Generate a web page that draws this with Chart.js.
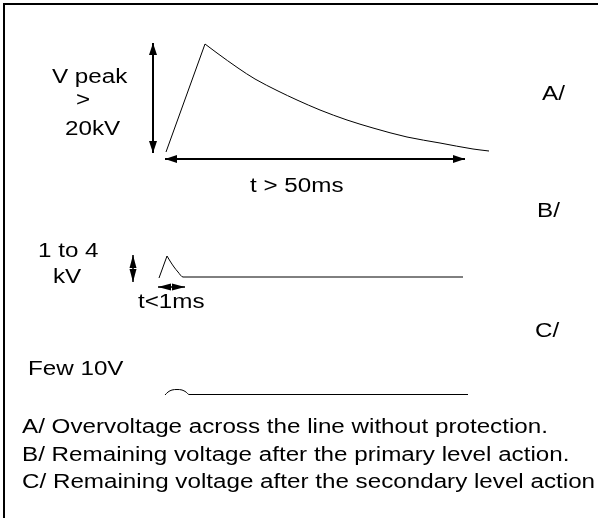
<!DOCTYPE html>
<html>
<head>
<meta charset="utf-8">
<script src="https://cdn.jsdelivr.net/npm/chart.js@4.4.1/dist/chart.umd.min.js"></script>
<style>
  html, body { margin:0; padding:0; background:#fff; }
  #wrap { width:598px; height:518px; }
</style>
</head>
<body>
<div id="wrap"><canvas id="chart" width="598" height="518"></canvas></div>
<script>
// ===== Data (diagram units = page px, y grows downward) =====
const frameX = [4, 4, 598];
const frameY = [518, 4, 4];

// A/ surge without protection (index 1 = peak)
const waveAX = [166, 205, 217, 238, 255, 278, 297, 320, 347, 373, 407, 440, 473, 489];
const waveAY = [152, 44, 53, 68, 79, 91, 100, 110, 120, 128, 137, 143, 149, 151];
const peakA = 1;

// B/ after primary level
const waveBX = [159, 167, 170, 174, 178, 183, 463];
const waveBY = [278, 256, 261, 267, 272, 277, 277];

// C/ after secondary level
const waveCX = [165, 168, 172, 177, 182, 186, 189, 468];
const waveCY = [395, 392, 390, 389.5, 390, 392, 394.5, 394.5];

// double arrows: [x1, y1, x2, y2]
const arrowsBig = [[153, 43, 153, 153], [165, 159, 465, 159]];
const arrowsSmall = [[133, 255, 133, 282], [158, 287, 185, 287]];

// texts: label, x (left), baseline y
const labelText = ["V peak", ">", "20kV", "t > 50ms", "A/", "B/", "C/", "1 to 4", "kV", "t<1ms", "Few 10V",
  "A/ Overvoltage across the line without protection.",
  "B/ Remaining voltage after the primary level action.",
  "C/ Remaining voltage after the secondary level action"];
const labelX = [52, 83, 65, 250, 542, 537, 535, 38, 53, 138, 28, 22, 22, 22];
const labelY = [83, 106, 135, 192, 100, 217, 337, 257, 283, 308, 375, 433, 461, 488];
const labelAlign = ["left", "center", "left", "left", "left", "left", "left", "left", "left", "left", "left", "left", "left", "left"];

const pts = (xs, ys) => xs.map((x, i) => ({ x, y: ys[i] }));

function lineSet(data, w, smooth) {
  return { data, showLine: true, borderColor: "#000", borderWidth: w, pointRadius: 0,
    tension: 0, cubicInterpolationMode: smooth ? "monotone" : "default", fill: false };
}

// ===== Plugins =====
const arrowPlugin = {
  id: "arrows",
  afterDatasetsDraw(chart) {
    const { ctx, scales: { x, y } } = chart;
    function head(px, py, ang, len, half) {
      ctx.beginPath();
      ctx.moveTo(px, py);
      ctx.lineTo(px - len * Math.cos(ang) + half * Math.sin(ang), py - len * Math.sin(ang) - half * Math.cos(ang));
      ctx.lineTo(px - len * Math.cos(ang) - half * Math.sin(ang), py - len * Math.sin(ang) + half * Math.cos(ang));
      ctx.closePath();
      ctx.fill();
    }
    function draw(list, lw, len, half) {
      list.forEach(a => {
        const x1 = x.getPixelForValue(a[0]), y1 = y.getPixelForValue(a[1]);
        const x2 = x.getPixelForValue(a[2]), y2 = y.getPixelForValue(a[3]);
        const ang = Math.atan2(y2 - y1, x2 - x1);
        ctx.save();
        ctx.strokeStyle = "#000"; ctx.fillStyle = "#000"; ctx.lineWidth = lw;
        ctx.beginPath(); ctx.moveTo(x1, y1); ctx.lineTo(x2, y2); ctx.stroke();
        head(x2, y2, ang, len, half);
        head(x1, y1, ang + Math.PI, len, half);
        ctx.restore();
      });
    }
    draw(arrowsBig, 2, 12, 4);
    draw(arrowsSmall, 1.5, 13, 3.5);
  }
};

const TEXT_STRETCH = 1.21;  // reference text is a bit wide
const textPlugin = {
  id: "texts",
  afterDraw(chart) {
    const { ctx, scales: { x, y } } = chart;
    ctx.fillStyle = "#000";
    labelText.forEach((t, i) => {
      const px = x.getPixelForValue(labelX[i]), py = y.getPixelForValue(labelY[i]);
      ctx.save();
      ctx.font = '20px "Liberation Sans", Arial, sans-serif';
      ctx.textBaseline = "alphabetic";
      ctx.textAlign = labelAlign[i];
      ctx.translate(px, py);
      ctx.scale(TEXT_STRETCH, 1);
      ctx.fillText(t, 0, 0);
      ctx.restore();
    });
  }
};

// ===== Chart =====
const allA = pts(waveAX, waveAY);
new Chart(document.getElementById("chart"), {
  type: "scatter",
  data: {
    datasets: [
      lineSet(pts(frameX, frameY), 2),
      lineSet(allA.slice(0, peakA + 1), 1),
      lineSet(allA.slice(peakA), 1, true),
      lineSet(pts(waveBX.slice(0, 2), waveBY.slice(0, 2)), 1),
      lineSet(pts(waveBX.slice(1), waveBY.slice(1)), 1, true),
      lineSet(pts(waveCX, waveCY), 1, true)
    ]
  },
  options: {
    responsive: false,
    animation: false,
    layout: { padding: 0 },
    plugins: { legend: { display: false }, tooltip: { enabled: false } },
    scales: {
      x: { type: "linear", min: 0, max: 598, display: false },
      y: { type: "linear", min: 0, max: 518, reverse: true, display: false }
    }
  },
  plugins: [arrowPlugin, textPlugin]
});
</script>
</body>
</html>
